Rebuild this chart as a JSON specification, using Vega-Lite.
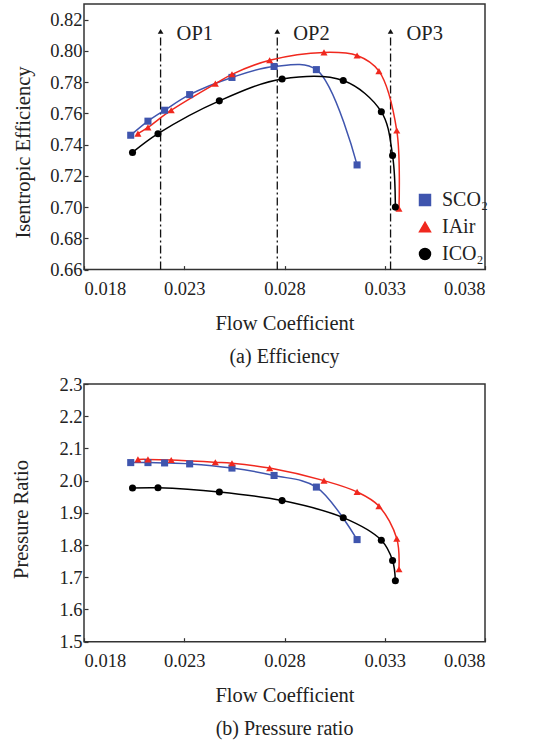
{
  "$schema": "https://vega.github.io/schema/vega-lite/v6.json",
  "background": "white",
  "padding": {"left": 10, "top": 3, "right": 5, "bottom": 0},
  "spacing": 6,
  "config": {
    "font": "Liberation Serif",
    "view": {"stroke": "#333333", "strokeWidth": 1.5},
    "axis": {
      "grid": false,
      "domain": false,
      "tickColor": "#333333",
      "tickSize": -4,
      "tickWidth": 1.2,
      "labelOverlap": false,
      "labelFont": "Liberation Serif",
      "labelFontSize": 18.5,
      "labelColor": "#222222",
      "titleFont": "Liberation Serif",
      "titleFontSize": 20.5,
      "titleFontWeight": "normal",
      "titleColor": "#222222"
    },
    "legend": {"labelFont": "Liberation Serif", "labelFontSize": 20, "labelColor": "#222222"}
  },
  "datasets": {
    "perf": [
      {"series": "SCO₂", "phi": 0.02033, "eff": 0.746, "pr": 2.056},
      {"series": "SCO₂", "phi": 0.02119, "eff": 0.755, "pr": 2.056},
      {"series": "SCO₂", "phi": 0.02202, "eff": 0.762, "pr": 2.055},
      {"series": "SCO₂", "phi": 0.02327, "eff": 0.772, "pr": 2.052},
      {"series": "SCO₂", "phi": 0.02538, "eff": 0.783, "pr": 2.039},
      {"series": "SCO₂", "phi": 0.02748, "eff": 0.790, "pr": 2.016},
      {"series": "SCO₂", "phi": 0.02959, "eff": 0.788, "pr": 1.980},
      {"series": "SCO₂", "phi": 0.03162, "eff": 0.727, "pr": 1.817},
      {"series": "IAir", "phi": 0.02069, "eff": 0.747, "pr": 2.066},
      {"series": "IAir", "phi": 0.02119, "eff": 0.751, "pr": 2.066},
      {"series": "IAir", "phi": 0.02235, "eff": 0.762, "pr": 2.064},
      {"series": "IAir", "phi": 0.02455, "eff": 0.779, "pr": 2.057},
      {"series": "IAir", "phi": 0.02538, "eff": 0.785, "pr": 2.054},
      {"series": "IAir", "phi": 0.02726, "eff": 0.794, "pr": 2.039},
      {"series": "IAir", "phi": 0.02997, "eff": 0.799, "pr": 2.000},
      {"series": "IAir", "phi": 0.03162, "eff": 0.797, "pr": 1.965},
      {"series": "IAir", "phi": 0.03271, "eff": 0.787, "pr": 1.921},
      {"series": "IAir", "phi": 0.03360, "eff": 0.749, "pr": 1.820},
      {"series": "IAir", "phi": 0.03371, "eff": 0.699, "pr": 1.725},
      {"series": "ICO₂", "phi": 0.02042, "eff": 0.735, "pr": 1.977},
      {"series": "ICO₂", "phi": 0.02169, "eff": 0.747, "pr": 1.978},
      {"series": "ICO₂", "phi": 0.02475, "eff": 0.768, "pr": 1.965},
      {"series": "ICO₂", "phi": 0.02788, "eff": 0.782, "pr": 1.938},
      {"series": "ICO₂", "phi": 0.03093, "eff": 0.781, "pr": 1.885},
      {"series": "ICO₂", "phi": 0.03283, "eff": 0.761, "pr": 1.815},
      {"series": "ICO₂", "phi": 0.03339, "eff": 0.733, "pr": 1.752},
      {"series": "ICO₂", "phi": 0.03353, "eff": 0.700, "pr": 1.689}
    ],
    "ops": [
      {"op": "OP1", "phi": 0.02182},
      {"op": "OP2", "phi": 0.02764},
      {"op": "OP3", "phi": 0.03329}
    ]
  },
  "resolve": {
    "scale": {"color": "independent", "shape": "independent"},
    "legend": {"color": "independent", "shape": "independent"}
  },
  "vconcat": [
    {
      "width": 401,
      "height": 265.6,
      "title": {"text": "(a) Efficiency", "orient": "bottom", "anchor": "middle", "fontSize": 20, "fontWeight": "normal", "font": "Liberation Serif", "color": "#222222", "offset": 13},
      "layer": [
        {
          "data": {"name": "ops"},
          "mark": {"type": "rule", "stroke": "#111111", "strokeWidth": 1.3, "strokeDash": [8, 3, 2, 3]},
          "encoding": {
            "x": {"field": "phi", "type": "quantitative", "scale": {"domain": [0.018, 0.038], "nice": false, "zero": false}, "axis": {"title": "Flow Coefficient", "values": [0.018, 0.023, 0.028, 0.033, 0.038], "format": ".3f", "labelPadding": 14, "titlePadding": 15, "labelOverlap": false}},
            "y": {"datum": 0.66, "type": "quantitative", "scale": {"domain": [0.66, 0.83], "nice": false, "zero": false}, "axis": {"title": "Isentropic Efficiency", "values": [0.66, 0.68, 0.70, 0.72, 0.74, 0.76, 0.78, 0.80, 0.82], "format": ".2f", "labelPadding": 6, "labelOverlap": false, "titleX": -51, "titleY": 148}},
            "y2": {"datum": 0.81}
          }
        },
        {
          "data": {"name": "ops"},
          "mark": {"type": "point", "shape": "triangle-up", "filled": true, "color": "#111111", "opacity": 1, "size": 32},
          "encoding": {
            "x": {"field": "phi", "type": "quantitative", "axis": {"title": "Flow Coefficient", "values": [0.018, 0.023, 0.028, 0.033, 0.038], "format": ".3f", "labelPadding": 14, "titlePadding": 15, "labelOverlap": false}},
            "y": {"datum": 0.8125, "type": "quantitative", "axis": {"title": "Isentropic Efficiency", "values": [0.66, 0.68, 0.70, 0.72, 0.74, 0.76, 0.78, 0.80, 0.82], "format": ".2f", "labelPadding": 6, "labelOverlap": false, "titleX": -51, "titleY": 148}}
          }
        },
        {
          "data": {"name": "ops"},
          "mark": {"type": "text", "align": "left", "baseline": "middle", "dx": 16, "fontSize": 20.5, "font": "Liberation Serif", "color": "#222222"},
          "encoding": {
            "x": {"field": "phi", "type": "quantitative", "axis": {"title": "Flow Coefficient", "values": [0.018, 0.023, 0.028, 0.033, 0.038], "format": ".3f", "labelPadding": 14, "titlePadding": 15, "labelOverlap": false}},
            "y": {"datum": 0.8105, "type": "quantitative", "axis": {"title": "Isentropic Efficiency", "values": [0.66, 0.68, 0.70, 0.72, 0.74, 0.76, 0.78, 0.80, 0.82], "format": ".2f", "labelPadding": 6, "labelOverlap": false, "titleX": -51, "titleY": 148}},
            "text": {"field": "op", "type": "nominal"}
          }
        },
        {
          "data": {"name": "perf"},
          "mark": {"type": "line", "interpolate": "catmull-rom", "strokeWidth": 1.5},
          "encoding": {
            "x": {"field": "phi", "type": "quantitative", "axis": {"title": "Flow Coefficient", "values": [0.018, 0.023, 0.028, 0.033, 0.038], "format": ".3f", "labelPadding": 14, "titlePadding": 15, "labelOverlap": false}},
            "y": {"field": "eff", "type": "quantitative", "axis": {"title": "Isentropic Efficiency", "values": [0.66, 0.68, 0.70, 0.72, 0.74, 0.76, 0.78, 0.80, 0.82], "format": ".2f", "labelPadding": 6, "labelOverlap": false, "titleX": -51, "titleY": 148}},
            "color": {
              "field": "series", "type": "nominal",
              "scale": {"domain": ["SCO₂", "IAir", "ICO₂"], "range": ["#3f55ae", "#f0281e", "#000000"]},
              "legend": {"title": null, "orient": "none", "legendX": 331, "legendY": 186, "padding": 0, "rowPadding": 7, "labelOffset": 7, "symbolSize": 120}
            }
          }
        },
        {
          "data": {"name": "perf"},
          "mark": {"type": "point", "filled": true, "opacity": 1, "size": 50},
          "encoding": {
            "x": {"field": "phi", "type": "quantitative", "axis": {"title": "Flow Coefficient", "values": [0.018, 0.023, 0.028, 0.033, 0.038], "format": ".3f", "labelPadding": 14, "titlePadding": 15, "labelOverlap": false}},
            "y": {"field": "eff", "type": "quantitative", "axis": {"title": "Isentropic Efficiency", "values": [0.66, 0.68, 0.70, 0.72, 0.74, 0.76, 0.78, 0.80, 0.82], "format": ".2f", "labelPadding": 6, "labelOverlap": false, "titleX": -51, "titleY": 148}},
            "shape": {"field": "series", "type": "nominal", "scale": {"domain": ["SCO₂", "IAir", "ICO₂"], "range": ["square", "triangle-up", "circle"]}, "legend": null},
            "color": {"field": "series", "type": "nominal", "scale": {"domain": ["SCO₂", "IAir", "ICO₂"], "range": ["#3f55ae", "#f0281e", "#000000"]}}
          }
        }
      ]
    },
    {
      "width": 401,
      "height": 257.7,
      "title": {"text": "(b) Pressure ratio", "orient": "bottom", "anchor": "middle", "fontSize": 20, "fontWeight": "normal", "font": "Liberation Serif", "color": "#222222", "offset": 13},
      "data": {"name": "perf"},
      "encoding": {
        "x": {
          "field": "phi", "type": "quantitative",
          "scale": {"domain": [0.018, 0.038], "nice": false, "zero": false},
          "axis": {"title": "Flow Coefficient", "values": [0.018, 0.023, 0.028, 0.033, 0.038], "format": ".3f", "labelPadding": 14, "titlePadding": 15, "labelOverlap": false}
        },
        "y": {
          "field": "pr", "type": "quantitative",
          "scale": {"domain": [1.5, 2.3], "nice": false, "zero": false},
          "axis": {"title": "Pressure Ratio", "values": [1.5, 1.6, 1.7, 1.8, 1.9, 2.0, 2.1, 2.2, 2.3], "format": ".1f", "labelPadding": 6, "labelOverlap": false, "titleX": -53, "titleY": 135}
        },
        "color": {"field": "series", "type": "nominal", "scale": {"domain": ["SCO₂", "IAir", "ICO₂"], "range": ["#3f55ae", "#f0281e", "#000000"]}, "legend": null}
      },
      "layer": [
        {
          "mark": {"type": "line", "interpolate": "catmull-rom", "strokeWidth": 1.5}
        },
        {
          "mark": {"type": "point", "filled": true, "opacity": 1, "size": 50},
          "encoding": {
            "shape": {"field": "series", "type": "nominal", "scale": {"domain": ["SCO₂", "IAir", "ICO₂"], "range": ["square", "triangle-up", "circle"]}, "legend": null}
          }
        }
      ]
    }
  ]
}
